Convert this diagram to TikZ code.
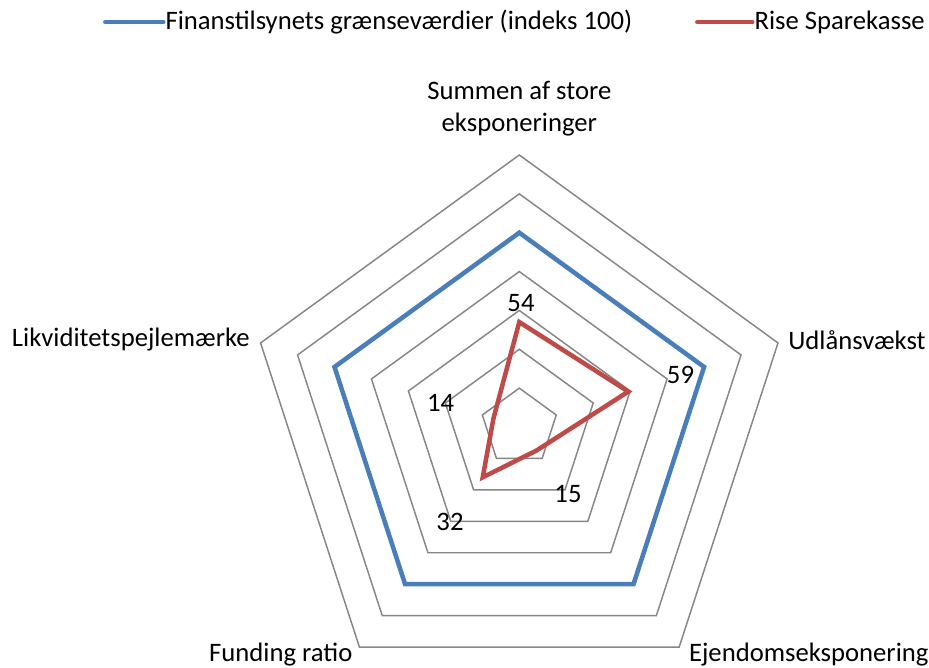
\documentclass[tikz,border=0pt]{standalone}
\usepackage{fontspec}
\setmainfont{Carlito}
\usepackage{tikz}
\definecolor{graenseblaa}{HTML}{4A7EBB}
\definecolor{riserod}{HTML}{BE4B48}
\definecolor{gitter}{HTML}{868686}

\begin{document}
\begin{tikzpicture}[x=0.75pt,y=0.75pt]
        \useasboundingbox (-519.3,-241) rectangle (409.7,427);
        % gitter
        \foreach \v in {20,40,...,140} {
            \draw[gitter, line width=1.1pt] (90:{\v*1.943}) -- (18:{\v*1.943}) -- (-54:{\v*1.943}) -- (-126:{\v*1.943}) -- (162:{\v*1.943}) -- cycle;
        }
        % punkter
        \coordinate (g1) at (90:{100*1.943});
        \coordinate (g2) at (18:{100*1.943});
        \coordinate (g3) at (-54:{100*1.943});
        \coordinate (g4) at (-126:{100*1.943});
        \coordinate (g5) at (162:{100*1.943});

        \coordinate (r1) at (90:{54*1.943});
        \coordinate (r2) at (18:{59*1.943});
        \coordinate (r3) at (-54:{15*1.943});
        \coordinate (r4) at (-126:{32*1.943});
        \coordinate (r5) at (162:{14*1.943});

        \draw[graenseblaa, line width=3.4pt] (g1) -- (g2) -- (g3) -- (g4) -- (g5) -- cycle;
        \draw[riserod, line width=3.4pt] (r1) -- (r2) -- (r3) -- (r4) -- (r5) -- cycle;

        \begin{scope}[every node/.style={font=\fontsize{20}{23.5}\selectfont, inner sep=0pt}]
            \node[align=center] (a1) at (0,318.5) {Summen af store\\eksponeringer};
            \node (a2) at (337.7,87) {Udlånsvækst};
            \node (a3) at (289.5,-228) {Ejendomseksponering};
            \node (a4) at (-238.5,-228) {Funding ratio};
            \node (a5) at (-388.5,87) {Likviditetspejlemærke};

            \node (v1) at (1.7,124) {54};
            \node (v2) at (161.2,52) {59};
            \node (v3) at (48.7,-67) {15};
            \node (v4) at (-69.3,-94.7) {32};
            \node (v5) at (-78.6,24.3) {14};

            \coordinate (lb1) at (-414,405);
            \coordinate (lb2) at (-356,405);
            \node[anchor=west] (lbt) at (-354,405) {Finanstilsynets grænseværdier (indeks 100)};
            \coordinate (lr1) at (178,405);
            \coordinate (lr2) at (233,405);
            \node[anchor=west] (lrt) at (235,405) {Rise Sparekasse};
        \end{scope}
        \begin{scope}[every path/.style={line width=3.4pt, line cap=round}]
            \draw[graenseblaa] (lb1) -- (lb2);
            \draw[riserod] (lr1) -- (lr2);
        \end{scope}
    \end{tikzpicture}
\end{document}
